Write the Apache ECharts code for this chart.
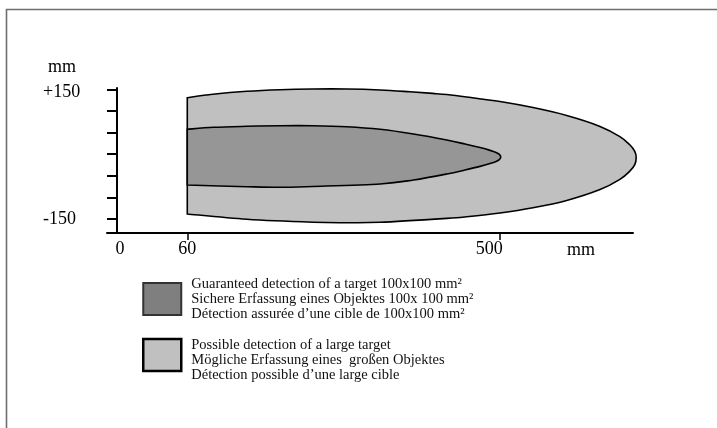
<!DOCTYPE html>
<html><head><meta charset="utf-8">
<script src="https://cdn.jsdelivr.net/npm/echarts@6/dist/echarts.min.js"></script>
<style>html,body{margin:0;padding:0;background:#fff}#c{width:717px;height:428px}</style>
</head><body><div id="c"></div>
<script>
// ---- data (mm) ----
const xTickValues = [60, 500];
const xTickLabels = ['0', '60', '500'];
const yTickValues = [-150, -100, -50, 0, 50, 100, 150];
const yLabelValues = [-150, 150];
const yLabelTexts = ['-150', '+150'];
const axisUnit = 'mm';

const nameGuaranteed = 'Guaranteed detection of a target 100x100 mm²\nSichere Erfassung eines Objektes 100x 100 mm²\nDétection assurée d’une cible de 100x100 mm²';
const namePossible = 'Possible detection of a large target\nMögliche Erfassung eines  großen Objektes\nDétection possible d’une large cible';

// outer zone (possible detection): top edge from left to tip, bottom edge from tip back to left
const outerTop = [[60,130.7],[96,138.6],[144,145.5],[191,149.2],[237,150.8],[285,150.8],[332,148.5],[374,144.3],[406,140.6],[426,137.9],[454,132.3],[501,121.7],[547.5,107.8],[595,89.5],[642,64.3],[670,40.7],[684,21.7],[691,6.5],[693,-7.6]];
const outerBottom = [[691,-24.1],[684,-39.3],[670,-58.3],[642,-81.9],[595,-107.1],[547.5,-124.0],[501,-136.1],[454,-144.8],[426,-148.5],[332,-157.5],[285,-158.5],[237,-157.5],[144,-150.6],[60,-138.3]];
// inner zone (guaranteed detection)
const innerTop = [[60,57.6],[97,62.2],[144,64.5],[191,65.9],[237,65.9],[285,63.6],[332,57.6],[379,46.7],[426,32.8],[451.6,23.6],[472.8,15.3],[486.9,8.8],[495.4,3.9],[500,-0.5],[502,-6.5]];
const innerBottom = [[500,-12.5],[495.4,-16.9],[486.9,-21.7],[472.8,-28.2],[451.6,-36.5],[426,-45.8],[379,-59.7],[332,-68.9],[237,-74.7],[191,-76.6],[144,-75.2],[60,-71.2]];

// ---- axis layout ----
const X_MIN = -53.2, X_MAX = 688.5, Y_MIN = -182.3, Y_MAX = 153.1;
const X_ORIGIN = -39.1; // where the vertical axis sits
const SERIF = 'Liberation Serif';

function makeRender(top, bottom, fill) {
  return function (params, api) {
    if (params.dataIndex !== 0) return null;
    const pts = top.concat(bottom).map(p => api.coord(p));
    const n = pts.length;
    let d = 'M' + pts[n-1][0] + ' ' + pts[n-1][1] + ' L' + pts[0][0] + ' ' + pts[0][1];
    for (let i = 0; i < n - 1; i++) {
      const p0 = pts[Math.max(i-1, 0)], p1 = pts[i], p2 = pts[i+1], p3 = pts[Math.min(i+2, n-1)];
      const c1 = [p1[0] + (p2[0]-p0[0])/6, p1[1] + (p2[1]-p0[1])/6];
      const c2 = [p2[0] - (p3[0]-p1[0])/6, p2[1] - (p3[1]-p1[1])/6];
      d += ' C' + c1[0] + ' ' + c1[1] + ' ' + c2[0] + ' ' + c2[1] + ' ' + p2[0] + ' ' + p2[1];
    }
    d += ' Z';
    return { type: 'path', shape: { pathData: d }, style: { fill: fill, stroke: '#000', lineWidth: 1.6 } };
  };
}

const chart = echarts.init(document.getElementById('c'), null, { renderer: 'canvas' });
chart.setOption({
  animation: false,
  backgroundColor: '#fff',
  textStyle: { fontFamily: SERIF },
  graphic: [{
    type: 'rect', left: 4, top: 7, silent: true,
    shape: { width: 730, height: 440 },
    style: { fill: 'none', stroke: '#6e6e6e', lineWidth: 1.6 }
  }],
  grid: { left: 107, right: 84, top: 88, bottom: 195, containLabel: false },
  xAxis: {
    type: 'value', min: X_MIN, max: X_MAX,
    splitLine: { show: false },
    axisLine: { show: true, onZero: false, lineStyle: { color: '#000', width: 2 } },
    axisTick: { show: true, customValues: xTickValues, length: 7, lineStyle: { color: '#000', width: 1.5 } },
    axisLabel: {
      customValues: [X_ORIGIN].concat(xTickValues),
      formatter: function (v) {
        if (v === X_ORIGIN) return '{o|' + xTickLabels[0] + '}';
        const i = xTickValues.indexOf(v) + 1;
        return i === xTickLabels.length - 1 ? '{e|' + xTickLabels[i] + '}' : xTickLabels[i];
      },
      rich: { o: { padding: [0, 0, 0, 6] }, e: { padding: [0, 20, 0, 0] } },
      color: '#000', fontFamily: SERIF, fontSize: 18, margin: 7
    },
    name: axisUnit, nameLocation: 'end', nameGap: -52,
    nameTextStyle: { color: '#000', fontFamily: SERIF, fontSize: 18, align: 'center', verticalAlign: 'top', padding: [8, 0, 0, 0] }
  },
  yAxis: {
    type: 'value', min: Y_MIN, max: Y_MAX, offset: -10,
    splitLine: { show: false },
    axisLine: { show: true, onZero: false, lineStyle: { color: '#000', width: 2 } },
    axisTick: { show: true, customValues: yTickValues, length: 10, lineStyle: { color: '#000', width: 2 } },
    axisLabel: {
      customValues: yLabelValues,
      formatter: function (v) {
        const t = yLabelTexts[yLabelValues.indexOf(v)];
        return v > 0 ? '{p|' + t + '}' : t;
      },
      rich: { p: { padding: [6, 0, 0, 0] } },
      color: '#000', fontFamily: SERIF, fontSize: 18, align: 'left', margin: 74
    },
    name: axisUnit, nameLocation: 'end', nameGap: 12,
    nameTextStyle: { color: '#000', fontFamily: SERIF, fontSize: 18, align: 'right', padding: [0, 41, 0, 0] }
  },
  legend: {
    orient: 'vertical', left: 142, top: 277, padding: 0,
    itemWidth: 38, itemHeight: 32, itemGap: 4.5,
    selectedMode: false,
    formatter: function (name) { return name === namePossible ? '{g|}\n' + name : name; },
    textStyle: { fontFamily: SERIF, fontSize: 14.5, lineHeight: 14.6, color: '#111', padding: [0, 0, 0, 5],
      rich: { g: { lineHeight: 10, height: 10 } } },
    data: [
      { name: nameGuaranteed, icon: 'rect', itemStyle: { color: '#7f7f7f', borderColor: '#333', borderWidth: 2 } },
      { name: namePossible, icon: 'rect', itemStyle: { color: '#c0c0c0', borderColor: '#000', borderWidth: 2.5 } }
    ]
  },
  series: [
    { type: 'custom', name: namePossible, clip: false, coordinateSystem: 'cartesian2d',
      itemStyle: { color: '#c0c0c0' },
      data: outerTop.concat(outerBottom), encode: { x: 0, y: 1 },
      renderItem: makeRender(outerTop, outerBottom, '#c0c0c0') },
    { type: 'custom', name: nameGuaranteed, clip: false, coordinateSystem: 'cartesian2d',
      itemStyle: { color: '#969696' },
      data: innerTop.concat(innerBottom), encode: { x: 0, y: 1 },
      renderItem: makeRender(innerTop, innerBottom, '#969696') }
  ]
});
</script></body></html>
